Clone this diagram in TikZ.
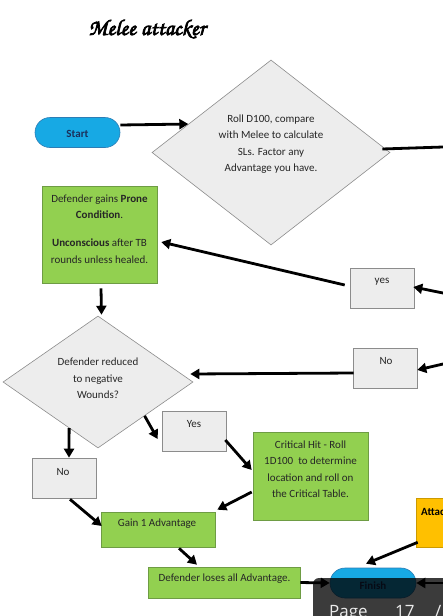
\documentclass[tikz,border=0pt]{standalone}
\usepackage[T1,TU]{fontenc}
\usepackage{fontspec}
\setmainfont{Carlito}
\newfontfamily\pagefont{Open Sans}
\newcommand\titlefnt{\fontencoding{T1}\fontfamily{pzc}\fontseries{mb}\fontshape{it}\selectfont}
\newcommand\fakebold[1]{\special{pdf:literal direct 2 Tr 0.7 w}#1\special{pdf:literal direct 0 Tr}}
\usetikzlibrary{arrows.meta,shapes.geometric,calc}
\definecolor{pillfill}{HTML}{17A9E4}
\definecolor{pilldraw}{HTML}{2C7DB5}
\definecolor{pilltext}{HTML}{1B2F5A}
\definecolor{boxgray}{HTML}{EDEDED}
\definecolor{boxline}{HTML}{8C8C8C}
\definecolor{greenfill}{HTML}{92D050}
\definecolor{greenline}{HTML}{6E9C44}
\definecolor{orangefill}{HTML}{FFC000}
\definecolor{txtdark}{HTML}{262626}
\begin{document}
\begin{tikzpicture}[x=1pt,y=-1pt,
  txt/.style={font=\fontsize{11}{16.5}\selectfont, text=txtdark, inner sep=0pt, align=center},
  graybox/.style={draw=boxline, fill=boxgray, line width=0.6pt, inner sep=0pt},
  greenbox/.style={draw=greenline, fill=greenfill, line width=0.6pt, inner sep=0pt},
  decision/.style={diamond, draw=boxline, fill=boxgray, line width=0.6pt, inner sep=0pt},
  pill/.style={draw=pilldraw, fill=pillfill, line width=0.6pt, rounded corners=15pt, inner sep=0pt, minimum height=30pt},
  ln/.style={line width=2.8pt, draw=black},
  arr/.style={line width=2.8pt, draw=black, -{Triangle[length=9pt,width=10pt]}}]
\useasboundingbox (0,0) rectangle (443,616);
\clip (0,0) rectangle (443,616);

% title
\node[inner sep=0pt, text=black] (title) at (147,29) {\titlefnt\fontsize{22.5}{26}\selectfont\fakebold{Melee attacker}};

% right-edge coordinates
\coordinate (e1) at (443,147);
\coordinate (e2) at (443,293);
\coordinate (e3) at (443,364);
\coordinate (e4) at (443,583);

% start
\node[pill, minimum width=85pt] (start) at (77.5,132.5) {};
\node[txt, font=\fontsize{11}{13}\selectfont\bfseries, text=pilltext] (startt) at (77.5,134) {Start};

% decision 1
\node[decision, minimum width=238pt, minimum height=185pt] (d1) at (271,152.5) {};
\node[txt] (d1t) at (271,144) {Roll D100, compare\\with Melee to calculate\\SLs. Factor any\\Advantage you have.};

% green box 1
\node[greenbox, minimum width=115pt, minimum height=97pt] (g1) at (99.5,234.5) {};
\node[txt] (g1t) at (99.5,229) {Defender gains \textbf{Prone}\\\textbf{Condition}.\\[11.5pt]\textbf{Unconscious} after TB\\rounds unless healed.};

% yes box (right)
\node[graybox, minimum width=64pt, minimum height=40pt] (yes1) at (382,288) {};
\node[txt] (yes1t) at (382,282) {yes};

% no box (right)
\node[graybox, minimum width=64pt, minimum height=40pt] (no1) at (385,368) {};
\node[txt] (no1t) at (386,361.5) {No};

% decision 2
\node[decision, minimum width=190pt, minimum height=132pt] (d2) at (98,382) {};
\node[txt] (d2t) at (98,378.5) {Defender reduced\\to negative\\Wounds?};

% yes box 2
\node[graybox, minimum width=64pt, minimum height=40pt] (yes2) at (194,431) {};
\node[txt] (yes2t) at (194,424) {Yes};

% no box 2
\node[graybox, minimum width=64pt, minimum height=40pt] (no2) at (64,478) {};
\node[txt] (no2t) at (63,472) {No};

% critical
\node[greenbox, minimum width=115pt, minimum height=88pt] (crit) at (310.5,476) {};
\node[txt] (critt) at (310.5,469) {Critical Hit - Roll\\1D100\ \ to determine\\location and roll on\\the Critical Table.};

% gain
\node[greenbox, minimum width=114pt, minimum height=35pt] (gain) at (158,529.5) {};
\node[txt] (gaint) at (157,524) {Gain 1 Advantage};

% loses
\node[greenbox, minimum width=152pt, minimum height=31pt] (loses) at (224,582.5) {};
\node[txt] (losest) at (224.5,579) {Defender loses all Advantage.};

% attack (cut off)
\node[draw=orangefill!80!black, fill=orangefill, line width=0.6pt, minimum width=64pt, minimum height=49pt, inner sep=0pt] (attack) at (448,522.5) {};
\node[txt, anchor=west, font=\fontsize{11}{13}\selectfont\bfseries, text=black] (attackt) at (421,512) {Attac};

% finish
\node[pill, minimum width=86pt] (finish) at (373,583) {};
\node[txt, font=\fontsize{11}{13}\selectfont\bfseries, text=pilltext] (finisht) at (373,586) {Finish};

% connectors
\draw[arr] ($(start.east)+(0,-7.5)$) -- (d1.161);
\draw[ln] ($(d1.east)+(-8,-3.5)$) -- (e1);
\draw[arr] (e2) -- ($(yes1.east)+(-1,-1)$);
\draw[arr] ($(yes1.west)+(-5,-3)$) -- ($(g1.east)+(4,7.5)$);
\draw[arr] ($(g1.south)+(1.5,5)$) -- ($(d2.north)+(3.5,-1)$);
\draw[arr] (e3) -- ($(no1.east)+(0,2)$);
\draw[arr] ($(no1.west)+(1,5)$) -- ($(d2.east)+(-3,-8)$);
\draw[arr] (d2.-36) -- ($(yes2.west)+(-4,8)$);
\draw[arr] (d2.-122) -- ($(no2.north)+(5,0)$);
\draw[arr] ($(yes2.east)+(-1,9)$) -- ($(crit.west)+(-1,-6)$);
\draw[arr] ($(crit.west)+(-1,16)$) -- ($(gain.north east)+(2,-2)$);
\draw[arr] ($(no2.south)+(6,1)$) -- ($(gain.west)+(1,-3.5)$);
\draw[arr] ($(gain.south)+(21,1)$) -- ($(loses.north)+(-27,-2)$);
\draw[arr] (loses.east) -- (finish.west);
\draw[arr] ($(attack.south west)+(2,-5)$) -- ($(finish.north)+(-7,-4)$);
\draw[arr] (e4) -- (finish.east);

% page overlay
\fill[black, opacity=0.77, rounded corners=6pt] (313,578) rectangle (480,650);
\node[anchor=base west, inner sep=0pt, text=white!92!black, font=\pagefont\fontsize{17}{20}\selectfont] (pg) at (329,617) {Page};
\node[anchor=base west, inner sep=0pt, text=white!92!black, font=\pagefont\fontsize{17}{20}\selectfont] (pgn) at (395,617) {17};
\node[anchor=base west, inner sep=0pt, text=white!92!black, font=\pagefont\fontsize{17}{20}\selectfont] (pgs) at (435,617) {/};
\end{tikzpicture}
\end{document}
